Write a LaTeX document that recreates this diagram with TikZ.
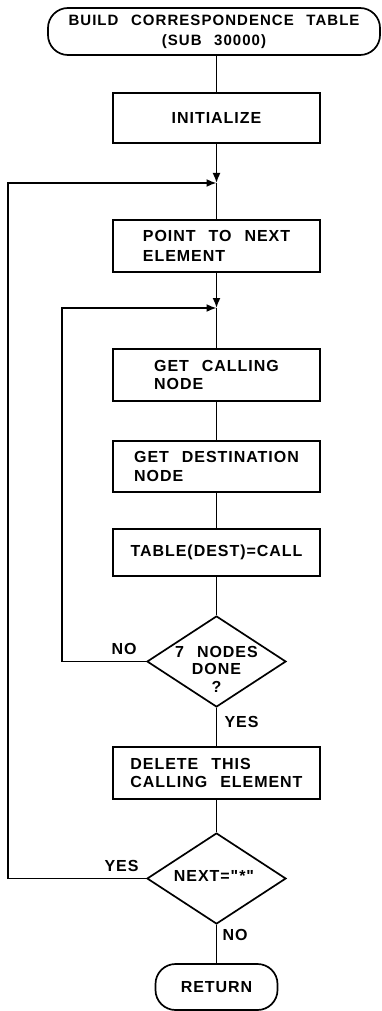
\documentclass[tikz,border=0pt]{standalone}
\usepackage{fontspec}
\newfontfamily\lbl[LetterSpace=6,WordSpace=2.4]{Liberation Sans Bold}
\newfontfamily\ttl[LetterSpace=7,WordSpace=2.4]{Liberation Sans Bold}
\usetikzlibrary{shapes.geometric,arrows.meta}
\begin{document}
\begin{tikzpicture}[x=1pt,y=-1pt, line width=1.7pt,
  lettering/.style={font=\lbl\fontsize{16}{18.5}\selectfont},
  box/.style={draw, lettering, minimum width=207pt, inner sep=0pt, align=left},
  term/.style={draw, lettering, rounded corners=20pt, inner sep=0pt, align=center},
  dia/.style={draw, diamond, minimum width=139pt, minimum height=91pt, inner sep=0pt},
  txt/.style={lettering, align=center, inner sep=0pt},
  lab/.style={lettering, inner sep=0pt},
  arr/.style={-{Latex[length=10pt,width=8pt]}}]
\useasboundingbox (0,0) rectangle (381,1011);

\node[term, minimum width=332pt, minimum height=47pt, font=\ttl\fontsize{15}{20}\selectfont] (start) at (214,31.5) {BUILD CORRESPONDENCE TABLE\\(SUB 30000)};
\node[box, minimum height=50pt] (init) at (216.5,118) {INITIALIZE};
\coordinate (j1) at (216.5,183);
\node[box, minimum height=52pt, font=\lbl\fontsize{16}{20}\selectfont] (point) at (216.5,246) {POINT TO NEXT\\ELEMENT};
\coordinate (j2) at (216.5,308);
\node[box, minimum height=52pt] (getcall) at (216.5,375) {GET CALLING\\NODE};
\node[box, minimum height=51pt] (getdest) at (216.5,466.5) {GET DESTINATION\\NODE};
\node[box, minimum height=47pt] (table) at (216.5,552.5) {TABLE(DEST)=CALL};
\node[dia] (d1) at (216.5,661.5) {};
\node[txt, font=\lbl\fontsize{16}{17.5}\selectfont] (d1t) at (216.5,669) {7 NODES\\DONE\\?};
\node[box, minimum height=52pt] (delete) at (216.5,773) {DELETE THIS\\CALLING ELEMENT};
\node[dia] (d2) at (216.5,878.5) {};
\node[txt] (d2t) at (214,876) {NEXT="*"};
\node[term, minimum width=122pt, minimum height=46pt] (ret) at (216.5,987) {RETURN};

\coordinate (L1) at (8,183);
\coordinate (L2) at (62,308);

\node[lab] (no1) at (124,649) {NO};
\node[lab] (yes1) at (241.5,722) {YES};
\node[lab] (yes2) at (121.5,866) {YES};
\node[lab] (no2) at (235,935) {NO};

\draw (init.north |- start.south) -- (init.north);
\draw[arr] (init) -- (j1);
\draw (j1) -- (point);
\draw[arr] (point) -- (j2);
\draw (j2) -- (getcall);
\draw (getcall) -- (getdest);
\draw (getdest) -- (table);
\draw (table) -- (d1);
\draw (d1) -- (delete);
\draw (delete) -- (d2);
\draw (d2) -- (ret);
\draw[arr] (d1.west) -| (L2) -- (j2);
\draw[arr] (d2.west) -| (L1) -- (j1);
\end{tikzpicture}
\end{document}
